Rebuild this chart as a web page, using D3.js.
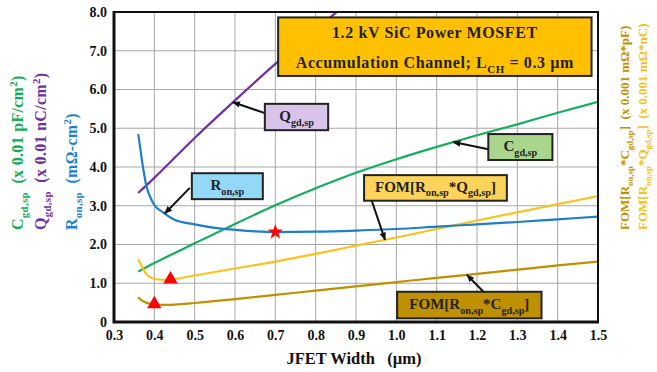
<!DOCTYPE html>
<html>
<head>
<meta charset="utf-8">
<script src="https://cdn.jsdelivr.net/npm/d3@7"></script>
<style>
  body { margin: 0; background: #fff; }
  text { font-family: "Liberation Serif", "Times New Roman", serif; font-weight: bold; }
</style>
</head>
<body>
<svg id="chart" width="657" height="372"></svg>
<script>
// ---- axis ticks ----
const xTicks = [0.3, 0.4, 0.5, 0.6, 0.7, 0.8, 0.9, 1.0, 1.1, 1.2, 1.3, 1.4, 1.5];
const yTicks = [0, 1, 2, 3, 4, 5, 6, 7, 8];
const yTickLabels = ["0", "1.0", "2.0", "3.0", "4.0", "5.0", "6.0", "7.0", "8.0"];

// ---- series: JFET width (µm) vs value ----
const widthRon = [0.36, 0.365, 0.37, 0.375, 0.38, 0.39, 0.40, 0.42, 0.45, 0.50, 0.55, 0.60, 0.65, 0.70, 0.80, 0.90, 1.00, 1.10, 1.20, 1.30, 1.40, 1.50];
const ronSp    = [4.85, 4.50, 4.12, 3.80, 3.52, 3.22, 3.02, 2.84, 2.64, 2.52, 2.43, 2.38, 2.34, 2.32, 2.33, 2.36, 2.40, 2.46, 2.52, 2.58, 2.65, 2.72];

const widthQgd = [0.36, 0.40, 0.50, 0.60, 0.70, 0.80, 0.87];
const qgdSp    = [3.33, 3.72, 4.75, 5.72, 6.66, 7.55, 8.15];

const widthCgd = [0.36, 0.40, 0.50, 0.60, 0.70, 0.80, 0.90, 1.00, 1.10, 1.20, 1.30, 1.40, 1.50];
const cgdSp    = [1.30, 1.52, 2.03, 2.53, 3.01, 3.45, 3.85, 4.20, 4.52, 4.82, 5.10, 5.40, 5.68];

const widthFom = [0.36, 0.37, 0.38, 0.39, 0.40, 0.42, 0.45, 0.50, 0.60, 0.70, 0.80, 0.90, 1.00, 1.10, 1.20, 1.30, 1.40, 1.50];
const fomRonQgd = [1.62, 1.42, 1.24, 1.15, 1.11, 1.09, 1.11, 1.20, 1.38, 1.56, 1.76, 1.97, 2.18, 2.40, 2.62, 2.83, 3.04, 3.25];
const fomRonCgd = [0.64, 0.55, 0.50, 0.47, 0.46, 0.44, 0.45, 0.49, 0.59, 0.70, 0.81, 0.92, 1.03, 1.14, 1.24, 1.35, 1.46, 1.56];

// optimum points
const starWidth = 0.70;      // minimum of R_on,sp
const triCgdWidth = 0.40;    // minimum of FOM[Ron*Cgd]
const triQgdWidth = 0.44;    // minimum of FOM[Ron*Qgd]

// ---- layout ----
const plot = { left: 114, right: 598, top: 12, bottom: 322 };
const svg = d3.select("#chart");
const x = d3.scaleLinear().domain([0.3, 1.5]).range([plot.left, plot.right]);
const y = d3.scaleLinear().domain([0, 8]).range([plot.bottom, plot.top]);

const C = {
  ron: "#1f7fc6", qgd: "#7030a0", cgd: "#14ae5c",
  fomQ: "#f8c31c", fomC: "#bf9000", grid: "#a8a8a8"
};

const interp = (xs, ys, v) => {
  const i = Math.max(1, Math.min(xs.length - 1, d3.bisectLeft(xs, v)));
  const t = (v - xs[i - 1]) / (xs[i] - xs[i - 1]);
  return ys[i - 1] + t * (ys[i] - ys[i - 1]);
};

// text with sub/superscripts: parts = [[string, mode]], mode 0 normal, 1 sub, 2 sup
function rich(t, parts, size) {
  let cur = 0;
  parts.forEach(([s, mode]) => {
    const target = mode === 1 ? size * 0.3 : mode === 2 ? -size * 0.4 : 0;
    t.append("tspan")
      .attr("dy", target - cur)
      .attr("font-size", mode ? size * 0.68 : size)
      .text(s);
    cur = target;
  });
  return t;
}

// ---- grid ----
const grid = svg.append("g");
grid.selectAll("line.v").data(xTicks.slice(1, -1)).join("line")
  .attr("x1", d => x(d)).attr("x2", d => x(d))
  .attr("y1", plot.top).attr("y2", plot.bottom)
  .attr("stroke", C.grid).attr("stroke-width", 1);
grid.selectAll("line.h").data(yTicks.slice(1, -1)).join("line")
  .attr("x1", plot.left).attr("x2", plot.right)
  .attr("y1", d => y(d)).attr("y2", d => y(d))
  .attr("stroke", C.grid).attr("stroke-width", 1);

// ---- axes ----
const yAxis = svg.append("g").attr("transform", `translate(${plot.left},0)`)
  .call(d3.axisLeft(y).tickValues(yTicks).tickFormat((d, i) => yTickLabels[i]).tickSize(0).tickPadding(7));
const xAxis = svg.append("g").attr("transform", `translate(0,${plot.bottom})`)
  .call(d3.axisBottom(x).tickValues(xTicks).tickFormat(d3.format(".1f")).tickSize(0).tickPadding(8));
[yAxis, xAxis].forEach(a => {
  a.select(".domain").remove();
  a.selectAll("text").attr("font-size", 14).attr("fill", "#111")
    .attr("font-family", "Liberation Serif, serif").attr("font-weight", "bold");
});

// ---- curves ----
svg.append("clipPath").attr("id", "clip").append("rect")
  .attr("x", plot.left).attr("y", plot.top)
  .attr("width", plot.right - plot.left).attr("height", plot.bottom - plot.top);
const curves = svg.append("g").attr("clip-path", "url(#clip)");
const line = d3.line().x(d => x(d[0])).y(d => y(d[1])).curve(d3.curveMonotoneX);
const series = [
  [widthCgd, cgdSp, C.cgd],
  [widthQgd, qgdSp, C.qgd],
  [widthFom, fomRonCgd, C.fomC],
  [widthFom, fomRonQgd, C.fomQ],
  [widthRon, ronSp, C.ron]
];
series.forEach(([xs, ys, col]) => {
  curves.append("path").datum(d3.zip(xs, ys))
    .attr("d", line).attr("fill", "none")
    .attr("stroke", col).attr("stroke-width", 2.2);
});

// ---- frame ----
svg.append("rect").attr("x", plot.left).attr("y", plot.top)
  .attr("width", plot.right - plot.left).attr("height", plot.bottom - plot.top)
  .attr("fill", "none").attr("stroke", "#111").attr("stroke-width", 2);
svg.append("path")
  .attr("d", `M${plot.left},${plot.top - 1}V${plot.bottom}H${plot.right + 1}`)
  .attr("fill", "none").attr("stroke", "#111").attr("stroke-width", 3);

// ---- optimum markers ----
const marks = svg.append("g");
marks.append("path")
  .attr("d", d3.symbol(d3.symbolStar, 75)())
  .attr("transform", `translate(${x(starWidth)},${y(interp(widthRon, ronSp, starWidth))})`)
  .attr("fill", "#ff0000");
[[triCgdWidth, fomRonCgd], [triQgdWidth, fomRonQgd]].forEach(([w, ys]) => {
  marks.append("path")
    .attr("d", d3.symbol(d3.symbolTriangle, 90)())
    .attr("transform", `translate(${x(w)},${y(interp(widthFom, ys, w))})`)
    .attr("fill", "#ff0000");
});

// ---- annotation callouts ----
const defs = svg.append("defs");
defs.append("marker").attr("id", "arrow")
  .attr("viewBox", "0 0 10 8").attr("refX", 9).attr("refY", 4)
  .attr("markerWidth", 8).attr("markerHeight", 7)
  .attr("markerUnits", "userSpaceOnUse").attr("orient", "auto")
  .append("path").attr("d", "M0,0L10,4L0,8Z").attr("fill", "#111");

// box corners in data space, arrow tail in data space, arrow tip on the series
const callouts = [
  { box: [0.674, 5.63, 0.831, 4.95], fill: "#d8c4e8",
    text: [["Q", 0], ["gd,sp", 1]], tail: [0.674, 5.39], tip: [0.595, widthQgd, qgdSp] },
  { box: [0.493, 3.84, 0.669, 3.17], fill: "#93d8f6",
    text: [["R", 0], ["on,sp", 1]], tail: [0.488, 3.46], tip: [0.426, widthRon, ronSp] },
  { box: [1.228, 4.85, 1.387, 4.18], fill: "#a9d68c",
    text: [["C", 0], ["gd,sp", 1]], tail: [1.228, 4.46], tip: [1.141, widthCgd, cgdSp] },
  { box: [0.920, 3.79, 1.274, 3.13], fill: "#fdd35a",
    text: [["FOM[R", 0], ["on,sp", 1], ["*Q", 0], ["gd,sp", 1], ["]", 0]], tail: [0.939, 3.13], tip: [0.972, widthFom, fomRonQgd] },
  { box: [1.002, 0.78, 1.360, 0.095], fill: "#bf9000",
    text: [["FOM[R", 0], ["on,sp", 1], ["*C", 0], ["gd,sp", 1], ["]", 0]], tail: [1.216, 0.78], tip: [1.175, widthFom, fomRonCgd] }
];
const notes = svg.append("g");
callouts.forEach(c => {
  const [x0, y0, x1, y1] = c.box;
  const tipV = interp(c.tip[1], c.tip[2], c.tip[0]);
  notes.append("line")
    .attr("x1", x(c.tail[0])).attr("y1", y(c.tail[1]))
    .attr("x2", x(c.tip[0])).attr("y2", y(tipV))
    .attr("stroke", "#111").attr("stroke-width", 2)
    .attr("marker-end", "url(#arrow)");
  notes.append("rect")
    .attr("x", x(x0)).attr("y", y(y0))
    .attr("width", x(x1) - x(x0)).attr("height", y(y1) - y(y0))
    .attr("fill", c.fill).attr("stroke", "#222").attr("stroke-width", 2);
  const t = notes.append("text")
    .attr("x", (x(x0) + x(x1)) / 2).attr("y", (y(y0) + y(y1)) / 2 + 4)
    .attr("text-anchor", "middle").attr("fill", "#222");
  rich(t, c.text, 15);
});

// ---- title box ----
const tb = [0.707, 7.86, 1.484, 6.35];
svg.append("rect")
  .attr("x", x(tb[0])).attr("y", y(tb[1]))
  .attr("width", x(tb[2]) - x(tb[0])).attr("height", y(tb[3]) - y(tb[1]))
  .attr("fill", "#ffc000").attr("stroke", "#222").attr("stroke-width", 2);
const tcx = (x(tb[0]) + x(tb[2])) / 2;
svg.append("text").attr("x", tcx).attr("y", 38)
  .attr("text-anchor", "middle").attr("font-size", 16).attr("fill", "#222")
  .attr("letter-spacing", 0.6)
  .text("1.2 kV SiC Power MOSFET");
rich(svg.append("text").attr("x", tcx).attr("y", 68)
  .attr("text-anchor", "middle").attr("fill", "#222").attr("letter-spacing", 0.6),
  [["Accumulation  Channel; L", 0], ["CH", 1], [" = 0.3 \u00b5m", 0]], 16);

// ---- axis titles ----
svg.append("text").attr("x", 354).attr("y", 364)
  .attr("text-anchor", "middle").attr("font-size", 16.5).attr("fill", "#111")
  .style("white-space", "pre")
  .text("JFET Width   (\u00b5m)");

const leftTitles = [
  { x: 23, color: "#12ad55", parts: [["C", 0], ["gd,sp", 1], ["  (x 0.01 pF/cm", 0], ["2", 2], [")", 0]] },
  { x: 46, color: "#7030a0", parts: [["Q", 0], ["gd,sp", 1], ["  (x 0.01 nC/cm", 0], ["2", 2], [")", 0]] },
  { x: 77, color: "#1a7fd0", parts: [["R", 0], ["on,sp", 1], ["  (m\u03a9-cm", 0], ["2", 2], [")", 0]] }
];
const rightTitles = [
  { x: 629, color: "#bf9000", parts: [["FOM[R", 0], ["on,sp", 1], ["*C", 0], ["gd,sp", 1], ["]  (x 0.001 m\u03a9*pF)", 0]] },
  { x: 647, color: "#f2c020", parts: [["FOM[R", 0], ["on,sp", 1], ["*Q", 0], ["gd,sp", 1], ["]  (x 0.001 m\u03a9*nC)", 0]] }
];
[...leftTitles.map(d => ({ ...d, size: 16, ls: 0.3 })), ...rightTitles.map(d => ({ ...d, size: 13, ls: 0 }))].forEach(d => {
  const t = svg.append("text")
    .attr("transform", `translate(${d.x},230) rotate(-90)`)
    .attr("letter-spacing", d.ls)
    .attr("fill", d.color).style("white-space", "pre");
  rich(t, d.parts, d.size);
});
</script>
</body>
</html>
